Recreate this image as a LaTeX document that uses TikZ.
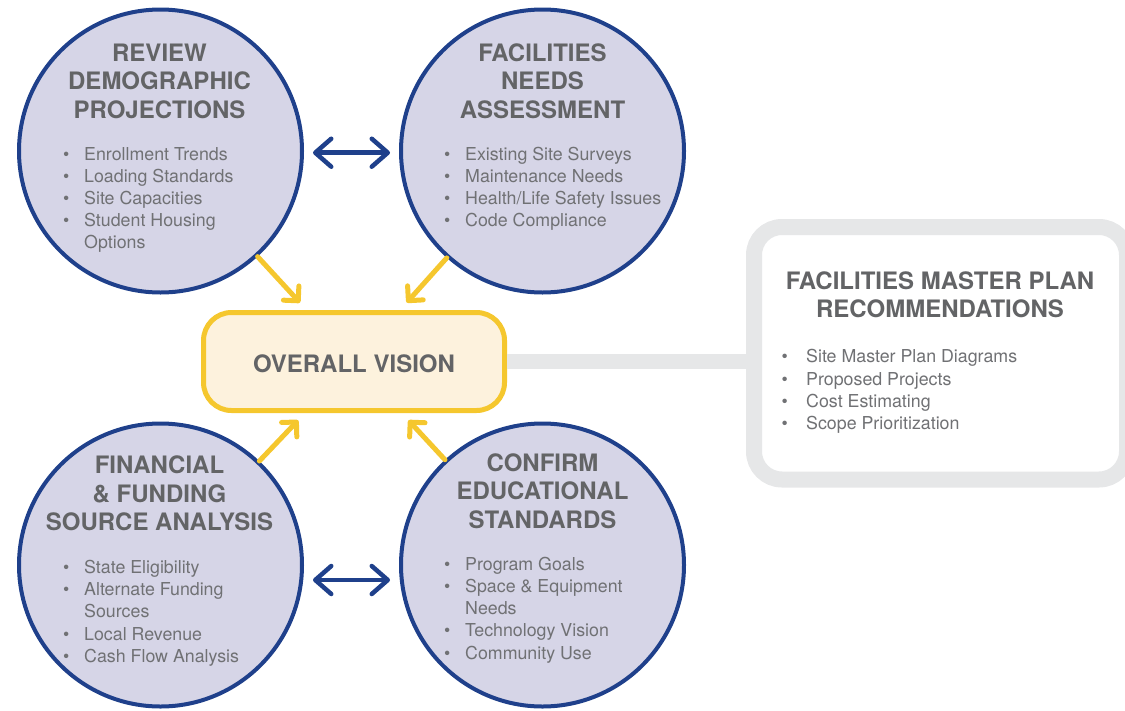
\documentclass[tikz,border=0pt]{standalone}
\usepackage{fontspec}
\setmainfont{TeX Gyre Heros}
\usetikzlibrary{arrows.meta}

\definecolor{navy}{RGB}{31,64,139}
\definecolor{lav}{RGB}{214,213,231}
\definecolor{gold}{RGB}{245,199,46}
\definecolor{cream}{RGB}{253,242,221}
\definecolor{lgray}{RGB}{230,231,232}
\definecolor{hgray}{RGB}{99,100,102}
\definecolor{bgray}{RGB}{112,113,116}

% bullet hung to the left of an item line
\newcommand\bul[1]{\llap{\makebox[#1][l]{\textbullet}}}

\begin{document}
\begin{tikzpicture}[x=1pt,y=-1pt,
  phase/.style={circle, draw=navy, fill=lav, line width=4pt, minimum size=283pt, inner sep=0pt},
  vision/.style={draw=gold, fill=cream, line width=5pt, rounded corners=28pt,
    minimum width=301pt, minimum height=98pt, inner sep=0pt,
    text height=22pt, text depth=0pt,
    text=hgray, font=\fontsize{24}{28.5}\selectfont\bfseries},
  result/.style={draw=lgray, fill=white, line width=16pt, rounded corners=28pt,
    minimum width=373pt, minimum height=252.5pt, inner sep=0pt},
  head/.style={anchor=base, inner sep=0pt, text=hgray, font=\fontsize{24}{28.5}\selectfont\bfseries},
  itm/.style={anchor=base west, inner sep=0pt, text=bgray, font=\fontsize{17.8}{22}\selectfont},
  feed/.style={draw=gold, line width=5pt, line cap=round,
    -{Straight Barb[round, length=10.5pt, width=21pt]}, shorten >=10pt},
  link/.style={draw=navy, line width=4.5pt, line cap=round,
    {Straight Barb[round, length=16pt, width=28pt]}-{Straight Barb[round, length=16pt, width=28pt]},
    shorten <=9pt, shorten >=9pt},
  bar/.style={draw=lgray, line width=15pt}
]
\useasboundingbox (0,0) rectangle (1125,710);

% the four phases
\node[phase] (demo) at (160.5,151) {};
\node[phase] (fac)  at (542.5,151) {};
\node[phase] (fin)  at (160.5,565) {};
\node[phase] (edu)  at (542.5,565) {};

% central vision and the resulting plan
\node[vision] (vis) at (354,361.5) {OVERALL VISION};
\node[result] (plan) at (940.5,353.25) {};
\draw[bar] (vis.east) -- (vis.east -| plan.west);

% connectors
\draw[feed] (demo) -- (vis);
\draw[feed] (fac) -- (vis);
\draw[feed] (fin) -- (vis);
\draw[feed] (edu) -- (vis);
\draw[link] ([yshift=-1.7pt]demo.east) -- ([yshift=-1.7pt]fac.west);
\draw[link] ([yshift=-15pt]fin.east) -- ([yshift=-15pt]edu.west);

% review demographic projections
\node[head] (demo-t1) at (159.5,61) {REVIEW};
\node[head] (demo-t2) at (159.5,89.5) {DEMOGRAPHIC};
\node[head] (demo-t3) at (159.5,118) {PROJECTIONS};
\node[itm] (demo-i1) at (84,160) {\bul{21pt}Enrollment Trends};
\node[itm] (demo-i2) at (84,182.2) {\bul{21pt}Loading Standards};
\node[itm] (demo-i3) at (84,204.4) {\bul{21pt}Site Capacities};
\node[itm] (demo-i4) at (84,226.6) {\bul{21pt}Student Housing};
\node[itm] (demo-i5) at (84,248.8) {Options};

% facilities needs assessment
\node[head] (fac-t1) at (542.5,61) {FACILITIES};
\node[head] (fac-t2) at (542.5,89.5) {NEEDS};
\node[head] (fac-t3) at (542.5,118) {ASSESSMENT};
\node[itm] (fac-i1) at (465,160) {\bul{21pt}Existing Site Surveys};
\node[itm] (fac-i2) at (465,182.2) {\bul{21pt}Maintenance Needs};
\node[itm] (fac-i3) at (465,204.4) {\bul{21pt}Health/Life Safety Issues};
\node[itm] (fac-i4) at (465,226.6) {\bul{21pt}Code Compliance};

% financial & funding source analysis
\node[head] (fin-t1) at (159.5,473.5) {FINANCIAL};
\node[head] (fin-t2) at (159.5,502) {\& FUNDING};
\node[head] (fin-t3) at (159.5,530.5) {SOURCE ANALYSIS};
\node[itm] (fin-i1) at (84,573.3) {\bul{21pt}State Eligibility};
\node[itm] (fin-i2) at (84,595.6) {\bul{21pt}Alternate Funding};
\node[itm] (fin-i3) at (84,617.9) {Sources};
\node[itm] (fin-i4) at (84,640.2) {\bul{21pt}Local Revenue};
\node[itm] (fin-i5) at (84,662.5) {\bul{21pt}Cash Flow Analysis};

% confirm educational standards
\node[head] (edu-t1) at (542.5,471) {CONFIRM};
\node[head] (edu-t2) at (542.5,499.5) {EDUCATIONAL};
\node[head] (edu-t3) at (542.5,528) {STANDARDS};
\node[itm] (edu-i1) at (465,570) {\bul{21pt}Program Goals};
\node[itm] (edu-i2) at (465,592.3) {\bul{21pt}Space \& Equipment};
\node[itm] (edu-i3) at (465,614.6) {Needs};
\node[itm] (edu-i4) at (465,636.9) {\bul{21pt}Technology Vision};
\node[itm] (edu-i5) at (465,659.2) {\bul{21pt}Community Use};

% master plan recommendations
\node[head] (plan-t1) at (940,289.8) {FACILITIES MASTER PLAN};
\node[head] (plan-t2) at (940,317.5) {RECOMMENDATIONS};
\node[itm] (plan-i1) at (806,362.7) {\bul{24.7pt}Site Master Plan Diagrams};
\node[itm] (plan-i2) at (806,385) {\bul{24.7pt}Proposed Projects};
\node[itm] (plan-i3) at (806,407.3) {\bul{24.7pt}Cost Estimating};
\node[itm] (plan-i4) at (806,429.6) {\bul{24.7pt}Scope Prioritization};
\end{tikzpicture}
\end{document}
